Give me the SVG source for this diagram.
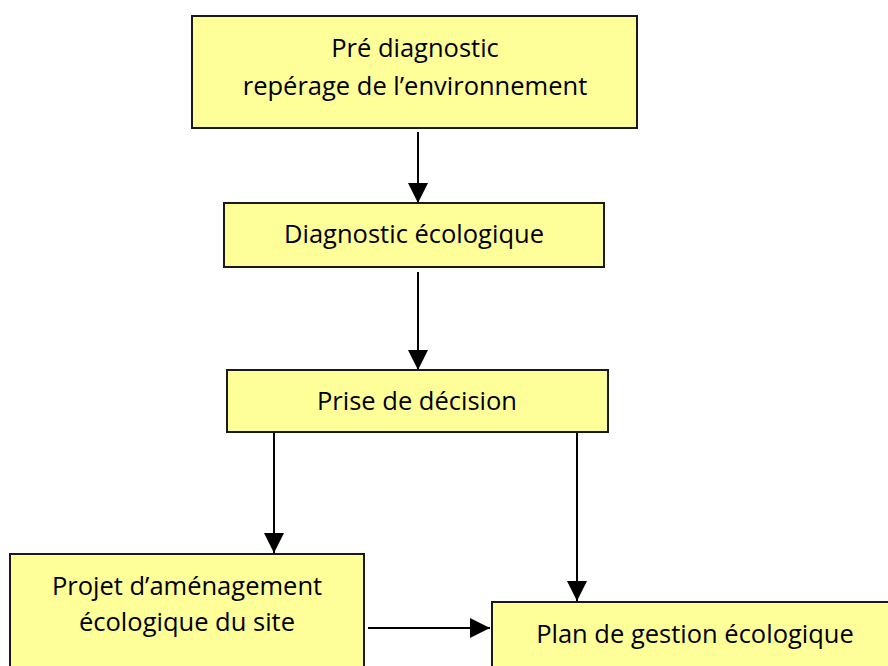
<svg xmlns="http://www.w3.org/2000/svg" width="888" height="666" viewBox="0 0 888 666">
<style>
.box{fill:#FFFF99;stroke:#1a1a1a;stroke-width:2}
.t{font-family:"Open Sans","DejaVu Sans",sans-serif;font-size:25.5px;fill:#000;text-anchor:middle}
.c{stroke:#000;stroke-width:2;fill:none;marker-end:url(#ah)}
</style>
<defs>
<marker id="ah" markerUnits="userSpaceOnUse" markerWidth="20" markerHeight="20" refX="20" refY="10" orient="auto" viewBox="0 0 20 20">
<path d="M0,0 L20,10 L0,20 Z" fill="#000"/>
</marker>
</defs>
<rect width="888" height="666" fill="#fff"/>
<g id="connectors">
<line class="c" x1="418" y1="132" x2="418" y2="203"/>
<line class="c" x1="418" y1="272" x2="418" y2="370"/>
<line class="c" x1="274" y1="433" x2="274" y2="553"/>
<line class="c" x1="577" y1="433" x2="577" y2="601"/>
<line class="c" x1="368" y1="628" x2="490" y2="628"/>
</g>
<g id="n1">
<rect class="box" x="192" y="16" width="445" height="112"/>
<text class="t" x="415" y="57">Pré diagnostic</text>
<text class="t" x="415" y="95">repérage de l’environnement</text>
</g>
<g id="n2">
<rect class="box" x="224" y="203" width="380" height="64"/>
<text class="t" x="414" y="243">Diagnostic écologique</text>
</g>
<g id="n3">
<rect class="box" x="227" y="370" width="381" height="62"/>
<text class="t" x="417" y="410">Prise de décision</text>
</g>
<g id="n4">
<rect class="box" x="10" y="554" width="354" height="120"/>
<text class="t" x="187" y="595">Projet d’aménagement</text>
<text class="t" x="187" y="631">écologique du site</text>
</g>
<g id="n5">
<rect class="box" x="492" y="602" width="410" height="80"/>
<text class="t" x="695" y="643">Plan de gestion écologique</text>
</g>
</svg>
